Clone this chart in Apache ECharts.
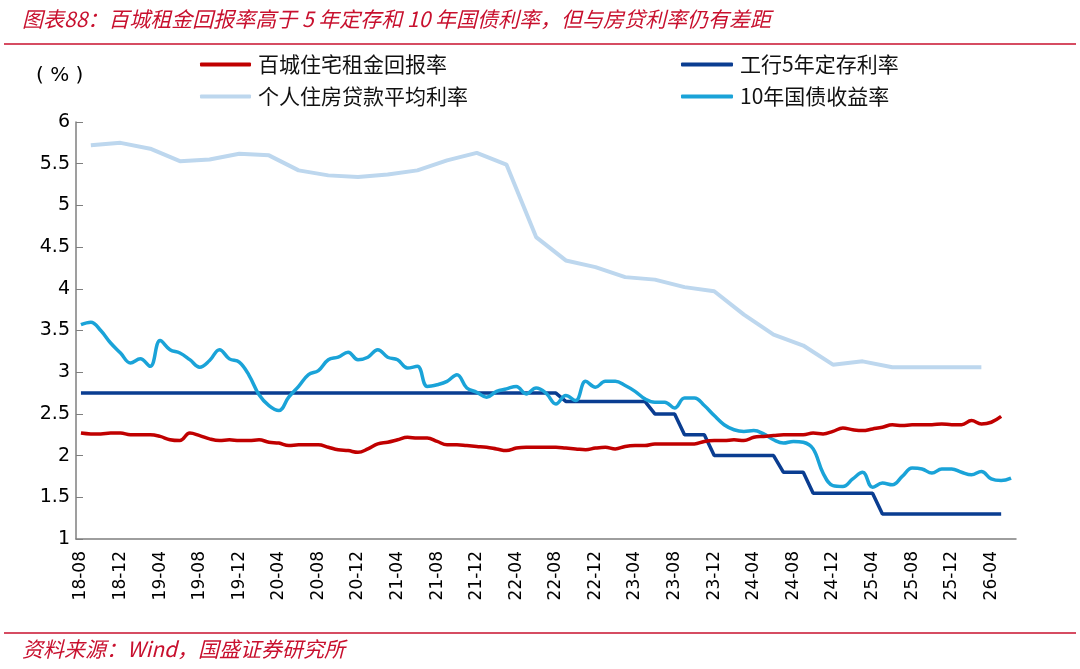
<!DOCTYPE html>
<html>
<head>
<meta charset="utf-8">
<script src="https://cdn.jsdelivr.net/npm/echarts@6/dist/echarts.min.js"></script>
<style>
html,body{margin:0;padding:0;background:#fff;}
#c{width:1080px;height:669px;}
</style>
</head>
<body>
<div id="c"></div>
<script>
// Monthly categories 2018-08 .. 2026-06
var categories = [
'18-08','18-09','18-10','18-11','18-12',
'19-01','19-02','19-03','19-04','19-05','19-06','19-07','19-08','19-09','19-10','19-11','19-12',
'20-01','20-02','20-03','20-04','20-05','20-06','20-07','20-08','20-09','20-10','20-11','20-12',
'21-01','21-02','21-03','21-04','21-05','21-06','21-07','21-08','21-09','21-10','21-11','21-12',
'22-01','22-02','22-03','22-04','22-05','22-06','22-07','22-08','22-09','22-10','22-11','22-12',
'23-01','23-02','23-03','23-04','23-05','23-06','23-07','23-08','23-09','23-10','23-11','23-12',
'24-01','24-02','24-03','24-04','24-05','24-06','24-07','24-08','24-09','24-10','24-11','24-12',
'25-01','25-02','25-03','25-04','25-05','25-06','25-07','25-08','25-09','25-10','25-11','25-12',
'26-01','26-02','26-03','26-04','26-05','26-06'
];

// 百城住宅租金回报率 (18-08 .. 26-05)
var rentYield = [
2.27,2.26,2.26,2.27,2.27,2.25,2.25,2.25,2.23,2.19,
2.18,2.27,2.24,2.20,2.18,2.19,2.18,2.18,2.19,2.16,
2.15,2.12,2.13,2.13,2.13,2.10,2.07,2.06,2.04,2.08,
2.14,2.16,2.19,2.22,2.21,2.21,2.17,2.13,2.13,2.12,
2.11,2.10,2.08,2.06,2.09,2.10,2.10,2.10,2.10,2.09,
2.08,2.07,2.09,2.10,2.08,2.11,2.12,2.12,2.14,2.14,
2.14,2.14,2.14,2.17,2.18,2.18,2.19,2.18,2.22,2.23,
2.24,2.25,2.25,2.25,2.27,2.26,2.29,2.33,2.31,2.30,
2.32,2.34,2.37,2.36,2.37,2.37,2.37,2.38,2.37,2.37,
2.42,2.38,2.40,2.47
];

// 工行5年定存利率 (18-08 .. 26-05)
var depositRate = [
2.75,2.75,2.75,2.75,2.75,2.75,2.75,2.75,2.75,2.75,
2.75,2.75,2.75,2.75,2.75,2.75,2.75,2.75,2.75,2.75,
2.75,2.75,2.75,2.75,2.75,2.75,2.75,2.75,2.75,2.75,
2.75,2.75,2.75,2.75,2.75,2.75,2.75,2.75,2.75,2.75,
2.75,2.75,2.75,2.75,2.75,2.75,2.75,2.75,2.75,2.65,
2.65,2.65,2.65,2.65,2.65,2.65,2.65,2.65,2.50,2.50,
2.50,2.25,2.25,2.25,2.00,2.00,2.00,2.00,2.00,2.00,
2.00,1.80,1.80,1.80,1.55,1.55,1.55,1.55,1.55,1.55,
1.55,1.30,1.30,1.30,1.30,1.30,1.30,1.30,1.30,1.30,
1.30,1.30,1.30,1.30
];

// 个人住房贷款平均利率 (quarterly)
var mortgageMonths = ['18-09','18-12','19-03','19-06','19-09','19-12','20-03','20-06','20-09','20-12',
'21-03','21-06','21-09','21-12','22-03','22-06','22-09','22-12','23-03','23-06','23-09','23-12',
'24-03','24-06','24-09','24-12','25-03','25-06','25-09','25-12','26-03'];
var mortgageRate = [5.72,5.75,5.68,5.53,5.55,5.62,5.60,5.42,5.36,5.34,
5.37,5.42,5.54,5.63,5.49,4.62,4.34,4.26,4.14,4.11,4.02,3.97,
3.69,3.45,3.32,3.09,3.13,3.06,3.06,3.06,3.06];

// 10年国债收益率 (18-08 .. 26-06)
var bond10y = [
3.57,3.60,3.50,3.35,3.23,3.11,3.16,3.07,3.38,3.27,
3.23,3.15,3.06,3.14,3.27,3.16,3.12,2.96,2.73,2.60,
2.54,2.70,2.83,2.97,3.02,3.15,3.18,3.24,3.15,3.18,
3.27,3.18,3.15,3.05,3.07,2.83,2.85,2.89,2.97,2.81,
2.76,2.70,2.77,2.80,2.83,2.74,2.81,2.75,2.62,2.72,
2.66,2.89,2.82,2.89,2.89,2.84,2.77,2.68,2.64,2.64,
2.57,2.69,2.69,2.60,2.48,2.37,2.31,2.29,2.30,2.26,
2.19,2.15,2.17,2.16,2.08,1.79,1.64,1.63,1.72,1.80,
1.62,1.67,1.65,1.75,1.85,1.84,1.79,1.84,1.84,1.80,
1.77,1.81,1.72,1.70,1.73
];

var names = ['百城住宅租金回报率','工行5年定存利率','个人住房贷款平均利率','10年国债收益率'];
var colors = ['#C00000','#0A3D91','#BDD7EE','#1AA3D8'];

var mortgageData = mortgageMonths.map(function(m,i){ return [m, mortgageRate[i]]; });

var chart = echarts.init(document.getElementById('c'), null, {renderer:'canvas'});
var legendText = {fontFamily:'"Noto Sans CJK SC", sans-serif', fontSize:21, color:'#111', lineHeight:20, padding:[0,0,0,2]};
chart.setOption({
  animation:false,
  backgroundColor:'#fff',
  color: colors,
  grid:{left:76, right:64, top:122, bottom:130},
  legend:[
    {data:[names[0],names[2]], orient:'vertical', left:200, top:54, itemWidth:51, itemHeight:4,
     itemGap:11, icon:'roundRect', textStyle:legendText, padding:0},
    {data:[names[1],names[3]], orient:'vertical', left:681, top:54, itemWidth:52, itemHeight:4,
     itemGap:11, icon:'roundRect', textStyle:legendText, padding:0}
  ],
  xAxis:{
    type:'category', data:categories, boundaryGap:true,
    axisLine:{lineStyle:{color:'#7f7f7f', width:1.5}},
    axisTick:{interval:3, inside:true, length:6, lineStyle:{color:'#7f7f7f'}},
    axisLabel:{interval:3, rotate:90, margin:12, fontFamily:'DejaVu Sans', fontSize:17, color:'#000'},
    splitLine:{show:false}
  },
  yAxis:{
    type:'value', min:1, max:6, interval:0.5,
    axisLine:{show:true, lineStyle:{color:'#7f7f7f', width:1.5}},
    axisTick:{show:true, inside:true, length:7, lineStyle:{color:'#7f7f7f'}},
    axisLabel:{margin:6, fontFamily:'DejaVu Sans', fontSize:19, color:'#000'},
    splitLine:{show:false}
  },
  series:[
    {name:names[2], type:'line', data:mortgageData, showSymbol:false, symbol:'none', connectNulls:true,
     lineStyle:{width:4, color:colors[2]}, itemStyle:{color:colors[2]}, z:1},
    {name:names[1], type:'line', data:depositRate, showSymbol:false, symbol:'none',
     lineStyle:{width:3.5, color:colors[1]}, itemStyle:{color:colors[1]}, z:2},
    {name:names[3], type:'line', data:bond10y, showSymbol:false, symbol:'none', smooth:0.4,
     lineStyle:{width:3.5, color:colors[3]}, itemStyle:{color:colors[3]}, z:3},
    {name:names[0], type:'line', data:rentYield, showSymbol:false, symbol:'none', smooth:0.4,
     lineStyle:{width:3.5, color:colors[0]}, itemStyle:{color:colors[0]}, z:4}
  ],
  graphic:[
    {type:'text', left:22, top:9, style:{text:'图表88：百城租金回报率高于 5 年定存和 10 年国债利率，但与房贷利率仍有差距',
      fontFamily:'"Noto Sans CJK SC", sans-serif', fontSize:21, fontStyle:'italic', fill:'#C8102E'}},
    {type:'line', shape:{x1:4, y1:44, x2:1076, y2:44}, style:{stroke:'#C8102E', lineWidth:1.5}},
    {type:'text', left:36, top:66, style:{text:'( % )', fontFamily:'DejaVu Sans', fontSize:20, fill:'#000'}},
    {type:'line', shape:{x1:4, y1:633, x2:1076, y2:633}, style:{stroke:'#C8102E', lineWidth:1.5}},
    {type:'text', left:22, top:639, style:{text:'资料来源：Wind，国盛证券研究所',
      fontFamily:'"Noto Sans CJK SC", sans-serif', fontSize:21, fontStyle:'italic', fill:'#C8102E'}}
  ]
});
</script>
</body>
</html>
